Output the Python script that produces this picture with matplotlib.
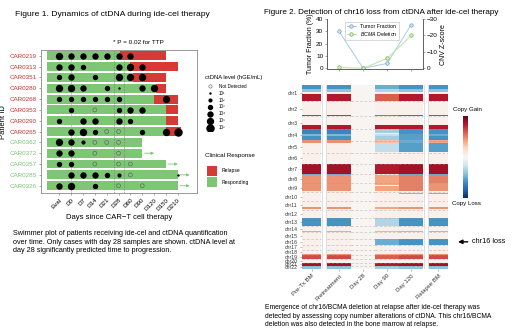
import numpy as np
import matplotlib
matplotlib.use("Agg")
import matplotlib.pyplot as plt

plt.rcParams['font.family'] = ['Liberation Sans', 'DejaVu Sans']
plt.rcParams['mathtext.fontset'] = 'custom'
plt.rcParams['mathtext.rm'] = 'Liberation Sans'
plt.rcParams['mathtext.it'] = 'Liberation Sans:italic'

N = np.nan

# ---- Figure 1 data (swimmer plot) ----
patients = ["CAR0219", "CAR0313", "CAR0351", "CAR0280", "CAR0268", "CAR0353", "CAR0290",
            "CAR0265", "CAR0362", "CAR0372", "CAR0357", "CAR0285", "CAR0326"]
relapsed = [True] * 8 + [False] * 5
timepoints = ["Eval", "D0", "D7", "D14", "D21", "D28", "D60", "D90", "D120", "D150", "D210"]
# end of responding period / end of relapse period, in timepoint index units
resp_end = [5.1, 6.0, 6.2, 8.2, 8.0, 9.0, 9.0, 9.0, 7.0, 7.0, 9.0, 10.0, 10.0]
relapse_end = [9.0, 10.0, 9.0, 9.0, 10.0, 10.0, 10.0, 10.3, N, N, N, N, N]
ongoing = [False] * 9 + [True] * 4
# log10 ctDNA level (hGE/mL): 0 = not detected, nan = no sample
ctdna_log = [
    [5, 4, 4, 4, 4, 4, 4, N, N, N, N],
    [4, 4, 3, N, N, 4, 5, 4, N, N, N],
    [3, 4, N, 3, N, 5, 5, 5, N, N, N],
    [5, 5, 4, N, 3, 1, N, 4, 5, N, N],
    [3, 3, 3, 3, 3, 3, N, N, N, 5, N],
    [N, 3, N, 0, N, 3, 4, 4, N, N, N],
    [3, N, 4, 4, N, 4, 3, N, N, N, N],
    [N, 4, 5, 3, 0, 0, N, 3, N, 5, 6],
    [5, 4, 2, 0, 0, 0, N, N, N, N, N],
    [4, 4, N, 0, N, 0, N, N, N, N, N],
    [3, 3, N, 0, N, 0, 0, N, N, N, N],
    [N, 4, 4, 4, 3, 2, 0, N, N, N, 1],
    [4, 5, N, 3, N, 0, N, 0, N, N, N],
]
legend_levels = ["Not Detected", "10\u00b9", "10\u00b2", "10\u00b3", "10\u2074", "10\u2075", "10\u2076"]
response_labels = ["Relapse", "Responding"]

# ---- Figure 2 data ----
samples = ["Pre-Tx BM", "Pretreatment", "Day 28", "Day 90", "Day 120", "Relapse BM"]
line_samples = ["Pretreatment", "Day 28", "Day 90", "Day 120"]
tumor_fraction = [30, 0, 4, 35.5]
bcma_zscore = [-0.5, 0, -6, -20]
chrom_mb = [249, 243, 198, 191, 181, 171, 159, 146, 141, 136, 135, 134,
            115, 107, 103, 90, 81, 78, 59, 63, 48, 51]
chrom_names = ["chr%d" % (i + 1) for i in range(len(chrom_mb))]
baseline = [0.05, 0.05, 0.02, 0.05, 0.05, 0.05]
# (chromosome, start fraction, end fraction, value per sample)
cnv_segments = [
    (1, 0.00, 0.25, [-0.6, -0.6, 0, -0.5, -0.6, -0.6]),
    (1, 0.25, 0.42, [-0.4, -0.4, 0, -0.3, -0.4, -0.4]),
    (1, 0.55, 1.00, [0.8, 0.8, 0, 0.6, 0.8, 0.8]),
    (2, 0.92, 0.97, [-0.75, -0.75, 0, -0.6, -0.7, -0.7]),
    (3, 0.70, 1.00, [0.8, 0.8, 0, 0.8, 0.8, 0.8]),
    (4, 0.00, 0.30, [-0.65, -0.65, 0, -0.35, -0.6, -0.6]),
    (4, 0.30, 0.38, [-0.65, -0.65, 0, 0.05, -0.6, -0.6]),
    (4, 0.38, 0.55, [-0.45, -0.45, 0, -0.25, -0.55, -0.5]),
    (4, 0.55, 0.90, [-0.6, -0.6, 0, -0.35, -0.55, -0.6]),
    (4, 0.90, 1.00, [0.45, 0.45, 0, 0.3, -0.5, 0.4]),
    (5, 0.00, 0.12, [0.45, 0.45, 0, 0.3, -0.5, 0.4]),
    (5, 0.12, 0.90, [0.05, 0.05, 0, -0.25, -0.55, -0.55]),
    (7, 0.00, 1.00, [0.85, 0.85, 0, 0.8, 0.85, 0.85]),
    (8, 0.00, 0.15, [-0.5, -0.5, 0, 0.05, -0.5, -0.5]),
    (8, 0.15, 1.00, [0.45, 0.45, 0, 0.4, 0.5, 0.5]),
    (9, 0.00, 0.85, [0.45, 0.45, 0, 0.4, 0.5, 0.45]),
    (9, 0.20, 0.30, [0.45, 0.45, 0, 0.05, 0.5, 0.45]),
    (10, 0.10, 0.25, [0.05, 0.05, 0, 0.05, -0.45, -0.45]),
    (11, 0.75, 0.88, [0.45, 0.45, 0, 0.4, 0.45, 0.45]),
    (13, 0.00, 1.00, [-0.6, -0.6, 0, -0.3, -0.6, -0.6]),
    (14, 0.85, 1.00, [0.4, 0.4, 0, 0.35, 0.4, 0.4]),
    (16, 0.00, 1.00, [0.05, 0.05, 0, -0.5, -0.6, -0.6]),
    (18, 0.75, 1.00, [0.45, 0.45, 0, 0.4, 0.45, 0.45]),
    (19, 0.00, 1.00, [0.65, 0.65, 0, 0.6, 0.65, 0.65]),
    (21, 0.00, 1.00, [0.85, 0.85, 0, 0.8, 0.85, 0.85]),
    (22, 0.00, 1.00, [-0.4, -0.4, 0, -0.35, -0.4, -0.4]),
]

GREEN = "#7dc774"
RED = "#d63a35"
LBL_RED = "#cc2f2a"
LBL_GREEN = "#7cc576"
dot_sizes = [8, 3, 9, 15, 21, 28, 37]

W, H = 520, 329
fig = plt.figure(figsize=(W / 100, H / 100), dpi=100)


def box(l, t, r, b):
    return [l / W, 1 - b / H, (r - l) / W, (b - t) / H]


def put(x, y, s, **kw):
    fig.text(x / W, 1 - y / H, s, **kw)


# ================= Figure 1 =================
put(15, 15, "Figure 1. Dynamics of ctDNA during ide-cel therapy", fontsize=6.1, va="center")
put(113, 42, "* P = 0.02 for TTP", fontsize=4.6, va="center")

ax = fig.add_axes(box(40.7, 50, 196.7, 193.3))
rows = np.arange(len(patients))
resp_end = np.array(resp_end)
relapse_end = np.array(relapse_end)
ax.barh(rows, resp_end + 1, left=-1, height=0.82, color=GREEN, zorder=1)
rel = ~np.isnan(relapse_end)
ax.barh(rows[rel], relapse_end[rel] - resp_end[rel], left=resp_end[rel], height=0.82,
        color=RED, zorder=1)
for r in rows[np.array(ongoing)]:
    ax.annotate("", xy=(resp_end[r] + 1.0, r), xytext=(resp_end[r] + 0.2, r),
                arrowprops=dict(arrowstyle="-|>", color=GREEN, lw=0.6, mutation_scale=4,
                                shrinkA=0, shrinkB=0), zorder=2)

ax.axvline(1, color="#aaaaaa", lw=0.4, zorder=1.5)
for xv in (4.6, 5.45):
    ax.axvline(xv, color="#777777", lw=0.4, ls=(0, (3, 2)), zorder=1.5)

lv = np.array(ctdna_log, dtype=float)
for r in rows:
    for t in range(len(timepoints)):
        v = lv[r, t]
        if np.isnan(v):
            continue
        if v == 0:
            ax.scatter(t, r, s=dot_sizes[0], facecolor="none", edgecolor="#666666",
                       lw=0.5, zorder=3)
        else:
            ax.scatter(t, r, s=dot_sizes[int(v)], color="black", lw=0, zorder=3)

ax.set_xlim(-1.57, 11.6)
ax.set_ylim(12.7, -0.53)
ax.set_yticks(rows, patients, fontsize=4.5)
for lab, rl in zip(ax.get_yticklabels(), relapsed):
    lab.set_color(LBL_RED if rl else LBL_GREEN)
ax.set_xticks(range(len(timepoints)), timepoints, rotation=45, ha="right",
              rotation_mode="anchor", fontsize=4.5)
ax.tick_params(length=1.5, width=0.4, pad=1.5, color="#666666")
ax.set_xlabel("Days since CAR\u2212T cell therapy", fontsize=5.5, labelpad=2)
ax.set_ylabel("Patient ID", fontsize=5.5, labelpad=2)
for sp in ax.spines.values():
    sp.set_color("#888888")
    sp.set_linewidth(0.6)

# legends
put(205, 78, "ctDNA level (hGE/mL)", fontsize=4.2, va="center")
lg = fig.add_axes(box(204, 83, 240, 131))
lg.set_xlim(0, 1)
lg.set_ylim(len(legend_levels) - 0.5, -0.5)
lg.axis("off")
for i, name in enumerate(legend_levels):
    if i == 0:
        lg.scatter(0.18, i, s=dot_sizes[0] * 0.7, facecolor="none", edgecolor="#777777", lw=0.5)
    else:
        lg.scatter(0.18, i, s=dot_sizes[i], color="black", lw=0)
    lg.text(0.42, i, name, fontsize=3.3, va="center")

put(205, 155, "Clinical Response", fontsize=4.5, va="center")
lg2 = fig.add_axes(box(206, 165, 250, 188))
lg2.set_xlim(0, 1)
lg2.set_ylim(1.5, -0.5)
lg2.axis("off")
for i, (name, c) in enumerate(zip(response_labels, [RED, GREEN])):
    lg2.barh(i, 0.24, left=0.02, height=0.9, color=c)
    lg2.text(0.36, i, name, fontsize=3.6, va="center")

put(13, 242, "Swimmer plot of patients receiving ide-cel and ctDNA quantification\n"
    "over time. Only cases with day 28 samples are shown. ctDNA level at\n"
    "day 28 significantly predicted time to progression.",
    fontsize=5.2, va="center", linespacing=1.3)

# ================= Figure 2 =================
put(264, 13, "Figure 2. Detection of chr16 loss from ctDNA after ide-cel therapy",
    fontsize=5.9, va="center")

# heatmap
hm = fig.add_axes(box(302, 85, 448, 269))
col_w = [0.8, 0.25, 1, 1, 1, 1, 0.25, 0.8]
data_cols = [0, 2, 3, 4, 5, 7]
x_edges = np.concatenate([[0], np.cumsum(col_w)])
cum = np.concatenate([[0], np.cumsum(chrom_mb)])
total = int(cum[-1])
grid = np.full((total, len(col_w)), np.nan)
for j, c in enumerate(data_cols):
    grid[:, c] = baseline[j]
for chrom, f0, f1, vals in cnv_segments:
    a = int(round(cum[chrom - 1] + f0 * chrom_mb[chrom - 1]))
    b = int(round(cum[chrom - 1] + f1 * chrom_mb[chrom - 1]))
    for j, c in enumerate(data_cols):
        grid[a:b, c] = vals[j] if j != 2 else baseline[2]
mesh = hm.pcolormesh(x_edges, np.arange(total + 1), grid, cmap="RdBu_r", vmin=-1, vmax=1)
hm.set_xlim(x_edges[0], x_edges[-1])
hm.set_ylim(total, 0)
for c in data_cols:
    hm.hlines(cum[1:-1], x_edges[c], x_edges[c + 1], colors="#9a9a9a",
              linestyles=(0, (4, 3)), lw=0.45, alpha=0.6)
for c in (1, 6):
    hm.axvline(x_edges[c] + 0.05, color="#d0d0d0", lw=0.5)
    hm.axvline(x_edges[c + 1] - 0.05, color="#d0d0d0", lw=0.5)
centers = (cum[:-1] + cum[1:]) / 2
hm.set_yticks(centers, chrom_names, fontsize=3.7, color="#333333")
hm.set_xticks([(x_edges[c] + x_edges[c + 1]) / 2 for c in data_cols], samples,
              rotation=45, ha="right", rotation_mode="anchor", fontsize=4.3, color="#333333")
hm.tick_params(length=1.5, width=0.4, pad=1.5, color="#888888")
for sp in hm.spines.values():
    sp.set_visible(False)

idx16 = chrom_names.index("chr16")
hm.annotate("chr16 loss", xy=(x_edges[-1] + 0.42, centers[idx16]),
            xytext=(x_edges[-1] + 1.0, centers[idx16]), fontsize=5.2, va="center", ha="left",
            arrowprops=dict(arrowstyle="-|>", color="black", lw=1.0, mutation_scale=6,
                            shrinkA=1, shrinkB=0), annotation_clip=False)

# colorbar
cax = fig.add_axes(box(463, 116, 468, 198))
cb = fig.colorbar(mesh, cax=cax)
cb.set_ticks([])
cb.outline.set_visible(False)
put(467, 110, "Copy Gain", fontsize=4.4, ha="center", va="center")
put(467, 204, "Copy Loss", fontsize=4.4, ha="center", va="center")

# line chart
lx = np.arange(len(line_samples))
la = fig.add_axes(box(327, 19, 423.3, 69.3))
la.plot(lx, tumor_fraction, color="#a9cbe8", lw=0.7, marker="o", ms=2.5,
        mfc="#cfe2f3", mec="#6f9fcf", mew=0.5, label="Tumor Fraction")
lb = la.twinx()
lb.plot(lx, bcma_zscore, color="#b8e3a3", lw=0.7, marker="o", ms=2.5,
        mfc="#d5efc8", mec="#72b552", mew=0.5)
la.plot([], [], color="#b8e3a3", lw=0.7, marker="o", ms=2.5, mfc="#d5efc8",
        mec="#72b552", mew=0.5, label=r"$\mathit{BCMA}$ Deletion")
la.set_xlim(-0.5, 3.5)
la.set_ylim(-0.8, 40)
lb.set_ylim(0.6, -30)
la.set_yticks([0, 10, 20, 30, 40])
lb.set_yticks([0, -10, -20, -30])
la.set_xticks(lx, [])
la.set_ylabel("Tumor Fraction (%)", fontsize=5, labelpad=1.5)
lb.set_ylabel("CNV Z-score", fontsize=5, labelpad=1.5)
for a in (la, lb):
    a.tick_params(labelsize=4.6, length=1.5, width=0.4, pad=1.2, color="#666666")
    a.spines["top"].set_visible(False)
    for sp in a.spines.values():
        sp.set_linewidth(0.5)
        sp.set_color("#555555")
leg = la.legend(loc="upper center", bbox_to_anchor=(0.47, 1.0), fontsize=3.8, frameon=True,
                handlelength=1.6, borderpad=0.4, labelspacing=0.3, fancybox=False)
leg.get_frame().set_edgecolor("#aaaaaa")
leg.get_frame().set_linewidth(0.4)

put(265, 316, "Emergence of chr16/BCMA deletion at relapse after ide-cel therapy was\n"
    "detected by assessing copy number alterations of ctDNA. This chr16/BCMA\n"
    "deletion was also detected in the bone marrow at relapse.",
    fontsize=4.9, va="center", linespacing=1.3)

fig.savefig("out.png", dpi=100, facecolor="white")
